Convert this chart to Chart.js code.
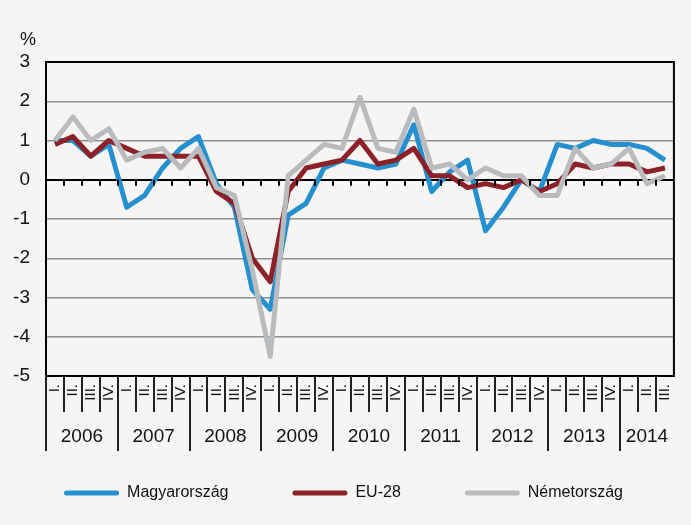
<!DOCTYPE html>
<html>
<head>
<meta charset="utf-8">
<script src="https://cdn.jsdelivr.net/npm/chart.js@4"></script>
<style>
  html, body { margin: 0; padding: 0; background: #f6f5f3; }
  #wrap { width: 691px; height: 525px; }
</style>
</head>
<body>
<div id="wrap"><canvas id="chart" width="691" height="525"></canvas></div>
<script>
const years = ['2006', '2007', '2008', '2009', '2010', '2011', '2012', '2013', '2014'];
const quarters = ['I.', 'II.', 'III.', 'IV.'];
const quartersInLastYear = 3;

const hungary = [1.0, 1.0, 0.6, 0.9, -0.7, -0.4, 0.3, 0.8, 1.1, -0.1, -0.7, -2.8, -3.3, -0.9, -0.6, 0.3,
  0.5, 0.4, 0.3, 0.4, 1.4, -0.3, 0.2, 0.5, -1.3, -0.7, 0.0, -0.3, 0.9, 0.8, 1.0, 0.9, 0.9, 0.8, 0.5];
const eu28 = [0.9, 1.1, 0.6, 1.0, 0.8, 0.6, 0.6, 0.6, 0.6, -0.3, -0.6, -2.0, -2.6, -0.3, 0.3, 0.4,
  0.5, 1.0, 0.4, 0.5, 0.8, 0.1, 0.1, -0.2, -0.1, -0.2, 0.0, -0.3, -0.1, 0.4, 0.3, 0.4, 0.4, 0.2, 0.3];
const germany = [1.0, 1.6, 1.0, 1.3, 0.5, 0.7, 0.8, 0.3, 0.8, -0.2, -0.4, -2.3, -4.5, 0.1, 0.5, 0.9,
  0.8, 2.1, 0.8, 0.7, 1.8, 0.3, 0.4, 0.0, 0.3, 0.1, 0.1, -0.4, -0.4, 0.8, 0.3, 0.4, 0.8, -0.1, 0.1];

const yTicks = [3, 2, 1, 0, -1, -2, -3, -4, -5];

// category labels: one per quarter
const labels = [];
years.forEach((y, i) => {
  const n = i === years.length - 1 ? quartersInLastYear : 4;
  for (let q = 0; q < n; q++) labels.push(y + ' ' + quarters[q]);
});

const FONT = "'Liberation Sans', Arial, sans-serif";

const frame = {
  id: 'frame',
  afterDraw(chart) {
    const { ctx, chartArea: a, scales: { x, y } } = chart;
    const step = x.getPixelForValue(1) - x.getPixelForValue(0);
    const zero = y.getPixelForValue(0);
    ctx.save();
    ctx.strokeStyle = '#000';
    ctx.lineWidth = 2;
    ctx.strokeRect(a.left, a.top, a.right - a.left, a.bottom - a.top);

    // small ticks under the zero line
    ctx.beginPath();
    for (let i = 1; i < labels.length; i++) {
      const px = Math.round(x.getPixelForValue(i) - step / 2);
      ctx.moveTo(px, zero);
      ctx.lineTo(px, zero + 6);
    }
    ctx.stroke();

    // quarter / year separators and year labels
    let idx = 0;
    ctx.strokeStyle = '#222';
    ctx.beginPath();
    ctx.moveTo(a.left, a.bottom);
    ctx.lineTo(a.left, a.bottom + 75);
    years.forEach((yr, i) => {
      const n = i === years.length - 1 ? quartersInLastYear : 4;
      const start = x.getPixelForValue(idx) - step / 2;
      const end = x.getPixelForValue(idx + n - 1) + step / 2;
      for (let q = 1; q < n; q++) {
        const px = Math.round(start + q * step);
        ctx.moveTo(px, a.bottom);
        ctx.lineTo(px, a.bottom + 36);
      }
      if (i < years.length - 1) {
        ctx.moveTo(Math.round(end), a.bottom);
        ctx.lineTo(Math.round(end), a.bottom + 75);
      }
      ctx.fillStyle = '#111';
      ctx.font = '19px ' + FONT;
      ctx.textAlign = 'center';
      ctx.textBaseline = 'middle';
      ctx.fillText(yr, (start + end) / 2, a.bottom + 61);
      idx += n;
    });
    ctx.stroke();

    ctx.fillStyle = '#111';
    ctx.font = '18px ' + FONT;
    ctx.textAlign = 'center';
    ctx.textBaseline = 'middle';
    ctx.fillText('%', 28, 40);
    ctx.restore();
  }
};

new Chart(document.getElementById('chart'), {
  type: 'line',
  data: {
    labels: labels,
    datasets: [
      { label: 'Magyarország', data: hungary, borderColor: '#2590cf', backgroundColor: '#2590cf', order: 2 },
      { label: 'EU-28', data: eu28, borderColor: '#8c2127', backgroundColor: '#8c2127', order: 1 },
      { label: 'Németország', data: germany, borderColor: '#b9bcbf', backgroundColor: '#b9bcbf', order: 0 }
    ]
  },
  options: {
    responsive: false,
    animation: false,
    layout: { padding: { top: 62, right: 4, left: 0, bottom: 14 } },
    elements: {
      line: { borderWidth: 5, tension: 0, borderJoinStyle: 'round', fill: false },
      point: { radius: 0 }
    },
    scales: {
      x: {
        offset: true,
        grid: { display: false, drawTicks: false },
        border: { display: false },
        afterFit: (scale) => { scale.height = 45; },
        ticks: {
          autoSkip: false,
          minRotation: 90,
          maxRotation: 90,
          padding: 8,
          color: '#111',
          font: { family: FONT, size: 15 },
          callback: function (value) {
            return this.getLabelForValue(value).split(' ')[1];
          }
        }
      },
      y: {
        min: -5,
        max: 3,
        afterFit: (scale) => { scale.width = 46; },
        afterBuildTicks: (scale) => { scale.ticks = yTicks.map(v => ({ value: v })); },
        border: { display: false },
        grid: {
          drawTicks: false,
          color: (c) => (c.tick && c.tick.value === 0) ? '#000' : '#8e8e8e',
          lineWidth: (c) => (c.tick && c.tick.value === 0) ? 2 : 1.5
        },
        ticks: {
          padding: 16,
          color: '#111',
          font: { family: FONT, size: 19 }
        }
      }
    },
    plugins: {
      tooltip: { enabled: false },
      legend: {
        position: 'bottom',
        labels: {
          boxWidth: 55,
          boxHeight: 5,
          padding: 64,
          color: '#111',
          font: { family: FONT, size: 16 },
          useBorderRadius: true,
          borderRadius: 2.5,
          generateLabels: (chart) => chart.data.datasets.map((ds, i) => ({
            text: ds.label,
            fillStyle: ds.borderColor,
            strokeStyle: ds.borderColor,
            lineWidth: 0,
            borderRadius: 2.5,
            datasetIndex: i,
            fontColor: '#111'
          }))
        }
      }
    }
  },
  plugins: [frame]
});
</script>
</body>
</html>
